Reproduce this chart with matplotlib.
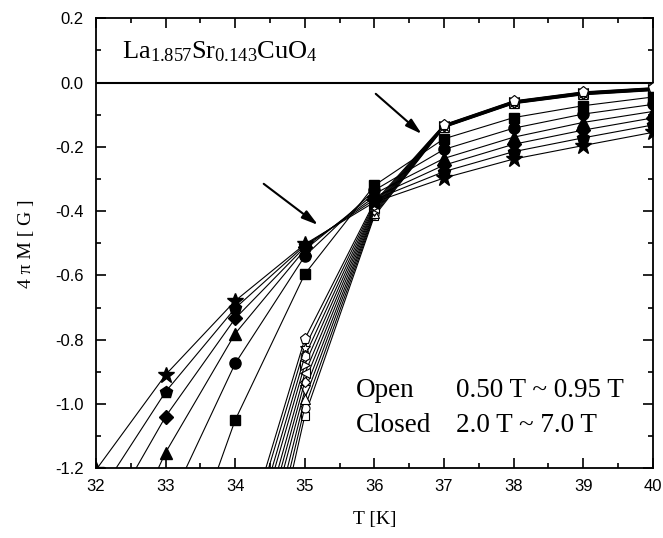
import numpy as np
import matplotlib
matplotlib.use('Agg')
import matplotlib.pyplot as plt

plt.rcParams['font.family'] = ['Liberation Serif', 'DejaVu Serif']
plt.rcParams['mathtext.fontset'] = 'custom'
plt.rcParams['mathtext.rm'] = 'Liberation Serif'
plt.rcParams['mathtext.it'] = 'Liberation Serif:italic'

T = [32, 33, 34, 35, 36, 37, 38, 39, 40]
nan = np.nan

# closed symbols: 2.0 T ... 7.0 T (points below -1.2 are off the chart)
closed_square = [nan, -1.657, -1.050, -0.596, -0.320, -0.175, -0.109, -0.072, -0.045]
closed_circle = [nan, -1.335, -0.874, -0.540, -0.335, -0.208, -0.142, -0.098, -0.068]
closed_triangle = [-1.618, -1.151, -0.781, -0.520, -0.346, -0.236, -0.170, -0.124, -0.090]
closed_diamond = [-1.418, -1.039, -0.734, -0.512, -0.356, -0.257, -0.192, -0.148, -0.110]
closed_pentagon = [-1.296, -0.962, -0.702, -0.507, -0.364, -0.277, -0.215, -0.172, -0.132]
closed_star = [-1.205, -0.909, -0.679, -0.503, -0.372, -0.297, -0.238, -0.196, -0.155]

closed_series = [closed_square, closed_circle, closed_triangle,
                 closed_diamond, closed_pentagon, closed_star]
closed_markers = ['s', 'o', '^', 'D', 'p', '*']
closed_sizes = [7, 8, 8, 7, 9, 12]

# open symbols: 0.50 T ... 0.95 T
open_square = [nan, nan, -1.996, -1.037, -0.415, -0.140, -0.066, -0.038, -0.025]
open_circle = [nan, nan, -1.911, -1.011, -0.410, -0.139, -0.065, -0.037, -0.024]
open_triangle = [nan, nan, -1.848, -0.984, -0.405, -0.138, -0.064, -0.036, -0.023]
open_tridown = [nan, nan, -1.765, -0.958, -0.401, -0.137, -0.063, -0.035, -0.022]
open_diamond = [nan, nan, -1.722, -0.931, -0.396, -0.136, -0.062, -0.034, -0.021]
open_trileft = [nan, nan, -1.681, -0.905, -0.391, -0.135, -0.061, -0.033, -0.020]
open_triright = [nan, nan, -1.627, -0.878, -0.387, -0.134, -0.060, -0.032, -0.019]
open_hexagon = [nan, nan, -1.592, -0.852, -0.382, -0.133, -0.059, -0.031, -0.018]
open_star = [nan, nan, -1.546, -0.825, -0.377, -0.132, -0.058, -0.030, -0.017]
open_pentagon = [nan, nan, -1.516, -0.798, -0.372, -0.131, -0.057, -0.029, -0.016]

open_series = [open_square, open_circle, open_triangle, open_tridown, open_diamond,
               open_trileft, open_triright, open_hexagon, open_star, open_pentagon]
open_markers = ['s', 'o', '^', 'v', 'D', '<', '>', 'h', '*', 'p']
open_sizes = [6, 6.5, 6.5, 6.5, 5.5, 6.5, 6.5, 7, 8, 8]

y_ticks = [-1.2, -1.0, -0.8, -0.6, -0.4, -0.2, 0.0, 0.2]
y_ticklabels = ['-1.2', '-1.0', '-0.8', '-0.6', '-0.4', '-0.2', '0.0', '0.2']

fig = plt.figure(figsize=(6.63, 5.38), dpi=100)
ax = fig.add_axes([0.1448, 0.1296, 0.8397, 0.8364])

ax.axhline(0, color='black', lw=1.5, zorder=1)

for y, m, ms in zip(open_series, open_markers, open_sizes):
    ax.plot(T, y, color='black', lw=0.8, marker=m, ms=ms, mfc='white',
            mec='black', mew=0.8, zorder=3)

for y, m, ms in zip(closed_series, closed_markers, closed_sizes):
    ax.plot(T, y, color='black', lw=0.8, marker=m, ms=ms, mfc='black',
            mec='black', zorder=4)

# arrows marking the crossing points
arrow = dict(arrowstyle='-|>,head_length=0.7,head_width=0.2', color='black',
             lw=1.5, mutation_scale=14, shrinkA=0, shrinkB=0)
ax.annotate('', xy=(35.19, -0.443), xytext=(34.41, -0.315), arrowprops=arrow)
ax.annotate('', xy=(36.68, -0.160), xytext=(36.02, -0.035), arrowprops=arrow)

ax.text(32.38, 0.075, r'La$_{1.857}$Sr$_{0.143}$CuO$_4$', fontsize=19,
        ha='left', va='baseline')
ax.text(35.74, -0.978, 'Open', fontsize=19.5, ha='left', va='baseline')
ax.text(37.17, -0.978, '0.50 T ~ 0.95 T', fontsize=19.5, ha='left', va='baseline')
ax.text(35.74, -1.088, 'Closed', fontsize=19.5, ha='left', va='baseline')
ax.text(37.17, -1.088, '2.0 T ~ 7.0 T', fontsize=19.5, ha='left', va='baseline')

ax.set_xlim(32, 40)
ax.set_ylim(-1.2, 0.2)
ax.set_xticks(np.arange(32, 40.1, 1))
ax.set_xticks(np.arange(32, 40.1, 0.5), minor=True)
ax.set_yticks(y_ticks)
ax.set_yticks(np.arange(-1.2, 0.21, 0.1), minor=True)
ax.set_yticklabels(y_ticklabels)

for lbl in ax.get_xticklabels() + ax.get_yticklabels():
    lbl.set_family(['Liberation Sans', 'DejaVu Sans'])
    lbl.set_fontsize(12)

ax.tick_params(which='both', direction='in', top=True, right=True, width=1.2)
ax.tick_params(which='major', length=7)
ax.tick_params(axis='x', which='major', pad=8)
ax.tick_params(axis='y', which='major', pad=9)
ax.tick_params(which='minor', length=3.5)
for s in ax.spines.values():
    s.set_linewidth(1.3)

ax.set_xlabel('T [K]', fontsize=14, labelpad=12)
ax.set_ylabel('4 \u03c0 M [ G ]', fontsize=14, labelpad=14)

fig.savefig('out.png', dpi=100)
